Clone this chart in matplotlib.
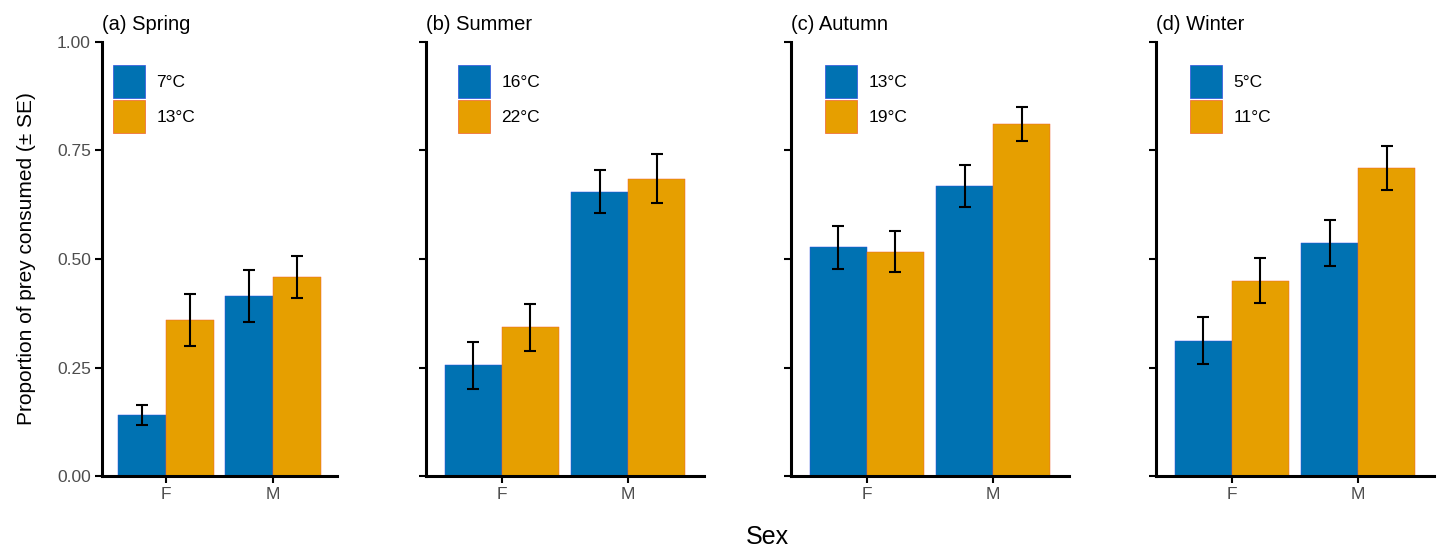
import matplotlib
matplotlib.use("Agg")
import matplotlib.pyplot as plt
from matplotlib.patches import Patch
import numpy as np

plt.rcParams['font.family'] = ['Liberation Sans', 'DejaVu Sans']

seasons = ["(a) Spring", "(b) Summer", "(c) Autumn", "(d) Winter"]
sexes = ["F", "M"]
temp_labels = [("7°C", "13°C"), ("16°C", "22°C"), ("13°C", "19°C"), ("5°C", "11°C")]

# mean values [season][sex] for the lower and higher temperature
low_mean = [[0.140, 0.415], [0.255, 0.655], [0.527, 0.668], [0.312, 0.537]]
high_mean = [[0.360, 0.458], [0.343, 0.685], [0.517, 0.812], [0.450, 0.710]]
low_se = [[0.023, 0.060], [0.054, 0.050], [0.050, 0.048], [0.054, 0.053]]
high_se = [[0.060, 0.049], [0.054, 0.057], [0.048, 0.039], [0.052, 0.050]]

W, H = 1442, 552
fig = plt.figure(figsize=(W / 100, H / 100), dpi=100)

panels_px = [(102, 337), (426, 704), (791, 1069), (1156, 1434)]
legend_off_px = [11, 32, 34, 34]
top_px, bot_px = 42, 476

blue = "#0072B2"
orange = "#E69F00"
blue_edge = "#3050E0"
orange_edge = "#F06030"
x = np.arange(len(sexes)) + 1.0
bw = 0.45

for i, (l, r) in enumerate(panels_px):
    ax = fig.add_axes([l / W, (H - bot_px) / H, (r - l) / W, (bot_px - top_px) / H])
    ax.bar(x - bw / 2, low_mean[i], width=bw, color=blue, edgecolor=blue_edge, linewidth=0.35, zorder=2)
    ax.bar(x + bw / 2, high_mean[i], width=bw, color=orange, edgecolor=orange_edge, linewidth=0.35, zorder=2)
    ax.errorbar(x - bw / 2, low_mean[i], yerr=low_se[i], fmt="none", ecolor="black",
                elinewidth=1.5, capsize=4.3, capthick=1.5, zorder=3)
    ax.errorbar(x + bw / 2, high_mean[i], yerr=high_se[i], fmt="none", ecolor="black",
                elinewidth=1.5, capsize=4.3, capthick=1.5, zorder=3)
    ax.set_xlim(0.4, 2.6)
    ax.set_ylim(0, 1.0)
    ax.set_xticks(x)
    ax.set_xticklabels(sexes)
    ax.set_yticks([0, 0.25, 0.5, 0.75, 1.0])
    if i == 0:
        ax.set_yticklabels(["0.00", "0.25", "0.50", "0.75", "1.00"])
        ax.set_ylabel("Proportion of prey consumed (± SE)", fontsize=15, labelpad=15)
    else:
        ax.set_yticklabels([])
    for s in ["top", "right"]:
        ax.spines[s].set_visible(False)
    for s in ["left", "bottom"]:
        ax.spines[s].set_linewidth(2.2)
    ax.tick_params(axis="both", length=5, width=1.5, colors="black", labelcolor="#4D4D4D",
                   labelsize=12.5, pad=3)
    ax.set_title(seasons[i], loc="left", fontsize=14.5, pad=9, x=0.0)
    handles = [Patch(facecolor=blue, edgecolor=blue_edge, linewidth=0.5),
               Patch(facecolor=orange, edgecolor=orange_edge, linewidth=0.5)]
    axw = r - l
    ax.legend(handles, temp_labels[i], loc="upper left",
              bbox_to_anchor=(legend_off_px[i] / axw, (476 - 65) / 434),
              frameon=False, fontsize=12.5, handlelength=1.85, handleheight=2.55,
              labelspacing=0.1, handletextpad=0.65, borderpad=0, borderaxespad=0)

fig.text(767 / W, 1 - 537 / H, "Sex", ha="center", va="center", fontsize=18)

fig.savefig("out.png", dpi=100)
